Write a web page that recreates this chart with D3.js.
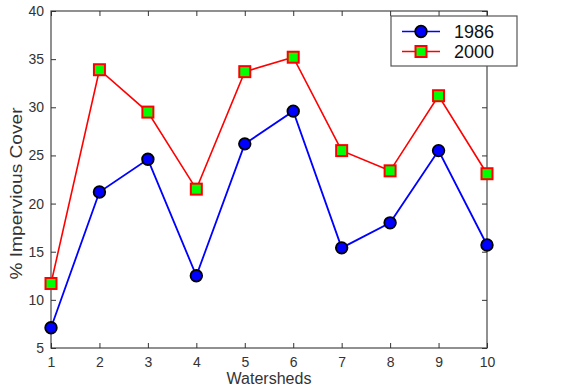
<!DOCTYPE html>
<html>
<head>
<meta charset="utf-8">
<script src="https://cdn.jsdelivr.net/npm/d3@7"></script>
<style>
  body { margin: 0; background: #fff; }
  svg text { font-family: "Liberation Sans", Arial, sans-serif; }
</style>
</head>
<body>
<script>
// watershed numbers and % impervious cover per year
var watersheds = [1, 2, 3, 4, 5, 6, 7, 8, 9, 10];
var cover1986 = [7.1, 21.2, 24.6, 12.5, 26.2, 29.6, 15.4, 18.0, 25.5, 15.7];
var cover2000 = [11.7, 33.9, 29.5, 21.5, 33.7, 35.2, 25.5, 23.4, 31.2, 23.1];
var yTicks = [5, 10, 15, 20, 25, 30, 35, 40];

var margin = {top: 11, right: 75, bottom: 39, left: 51},
    width = 562 - margin.left - margin.right,
    height = 387 - margin.top - margin.bottom;

var x = d3.scaleLinear().domain([1, 10]).range([0, width]);
var y = d3.scaleLinear().domain([5, 40]).range([height, 0]);

var svg = d3.select("body").append("svg")
    .attr("width", 562)
    .attr("height", 387)
    .append("g")
    .attr("transform", "translate(" + margin.left + "," + margin.top + ")");

var axisColor = "#555";

// box around plot
svg.append("rect")
    .attr("width", width)
    .attr("height", height)
    .attr("fill", "none")
    .attr("stroke", axisColor)
    .attr("stroke-width", 1.3);

// bottom axis, ticks inward
var xAxis = svg.append("g")
    .attr("transform", "translate(0," + height + ")")
    .call(d3.axisBottom(x).tickValues(watersheds).tickFormat(d3.format("d")).tickSizeInner(-5).tickSizeOuter(0).tickPadding(9));
// left axis
var yAxis = svg.append("g")
    .call(d3.axisLeft(y).tickValues(yTicks).tickSizeInner(-5).tickSizeOuter(0).tickPadding(7));
// top and right mirror ticks
var xTop = svg.append("g")
    .call(d3.axisTop(x).tickValues(watersheds).tickSizeInner(-5).tickSizeOuter(0).tickFormat(""));
var yRight = svg.append("g")
    .attr("transform", "translate(" + width + ",0)")
    .call(d3.axisRight(y).tickValues(yTicks).tickSizeInner(-5).tickSizeOuter(0).tickFormat(""));

[xAxis, yAxis, xTop, yRight].forEach(function(g) {
  g.select(".domain").remove();
  g.selectAll("line").attr("stroke", "#333").attr("stroke-width", 1);
  g.selectAll("text").attr("fill", "#333").style("font-size", "14px");
});

// axis titles
svg.append("text")
    .attr("x", width / 2)
    .attr("y", height + 36)
    .attr("text-anchor", "middle")
    .attr("fill", "#333")
    .style("font-size", "16px")
    .text("Watersheds");

// y label is drawn long and thin in the original
svg.append("text")
    .attr("transform", "translate(" + (-29) + "," + (height / 2 + 14) + ") rotate(-90)")
    .attr("text-anchor", "middle")
    .attr("fill", "#333")
    .attr("textLength", 172)
    .attr("lengthAdjust", "spacingAndGlyphs")
    .style("font-size", "16px")
    .text("% Impervious Cover");

var line = d3.line()
    .x(function(d, i) { return x(watersheds[i]); })
    .y(function(d) { return y(d); });

// 2000 series
svg.append("path")
    .datum(cover2000)
    .attr("fill", "none")
    .attr("stroke", "#ff0000")
    .attr("stroke-width", 1.6)
    .attr("d", line);

// 1986 series
svg.append("path")
    .datum(cover1986)
    .attr("fill", "none")
    .attr("stroke", "#0000ff")
    .attr("stroke-width", 1.8)
    .attr("d", line);

svg.selectAll(".sq")
    .data(cover2000)
    .enter().append("rect")
    .attr("class", "sq")
    .attr("x", function(d, i) { return x(watersheds[i]) - 5.5; })
    .attr("y", function(d) { return y(d) - 5.5; })
    .attr("width", 11)
    .attr("height", 11)
    .attr("fill", "#00ff00")
    .attr("stroke", "#ff0000")
    .attr("stroke-width", 2);

svg.selectAll(".dot")
    .data(cover1986)
    .enter().append("circle")
    .attr("class", "dot")
    .attr("cx", function(d, i) { return x(watersheds[i]); })
    .attr("cy", function(d) { return y(d); })
    .attr("r", 5.8)
    .attr("fill", "#0000ff")
    .attr("stroke", "#000")
    .attr("stroke-width", 1.8);

// legend
var legend = svg.append("g")
    .attr("transform", "translate(" + (391 - margin.left) + "," + (16 - margin.top) + ")");

legend.append("rect")
    .attr("width", 126)
    .attr("height", 50)
    .attr("fill", "#fff")
    .attr("stroke", axisColor)
    .attr("stroke-width", 1.2);

var legendItems = [
  {label: "1986", color: "#0000ff", shape: "circle"},
  {label: "2000", color: "#ff0000", shape: "square"}
];

legendItems.forEach(function(item, i) {
  var g = legend.append("g").attr("transform", "translate(0," + (15.5 + i * 20) + ")");
  g.append("line")
    .attr("x1", 11).attr("x2", 49)
    .attr("stroke", item.color)
    .attr("stroke-width", 1.6);
  if (item.shape == "circle") {
    g.append("circle").attr("cx", 30).attr("r", 5.8)
      .attr("fill", "#0000ff").attr("stroke", "#000").attr("stroke-width", 1.8);
  } else {
    g.append("rect").attr("x", 24.5).attr("y", -5.5).attr("width", 11).attr("height", 11)
      .attr("fill", "#00ff00").attr("stroke", "#ff0000").attr("stroke-width", 2);
  }
  g.append("text")
    .attr("x", 63)
    .attr("y", 6.5)
    .attr("fill", "#111")
    .style("font-size", "18px")
    .text(item.label);
});
</script>
</body>
</html>
